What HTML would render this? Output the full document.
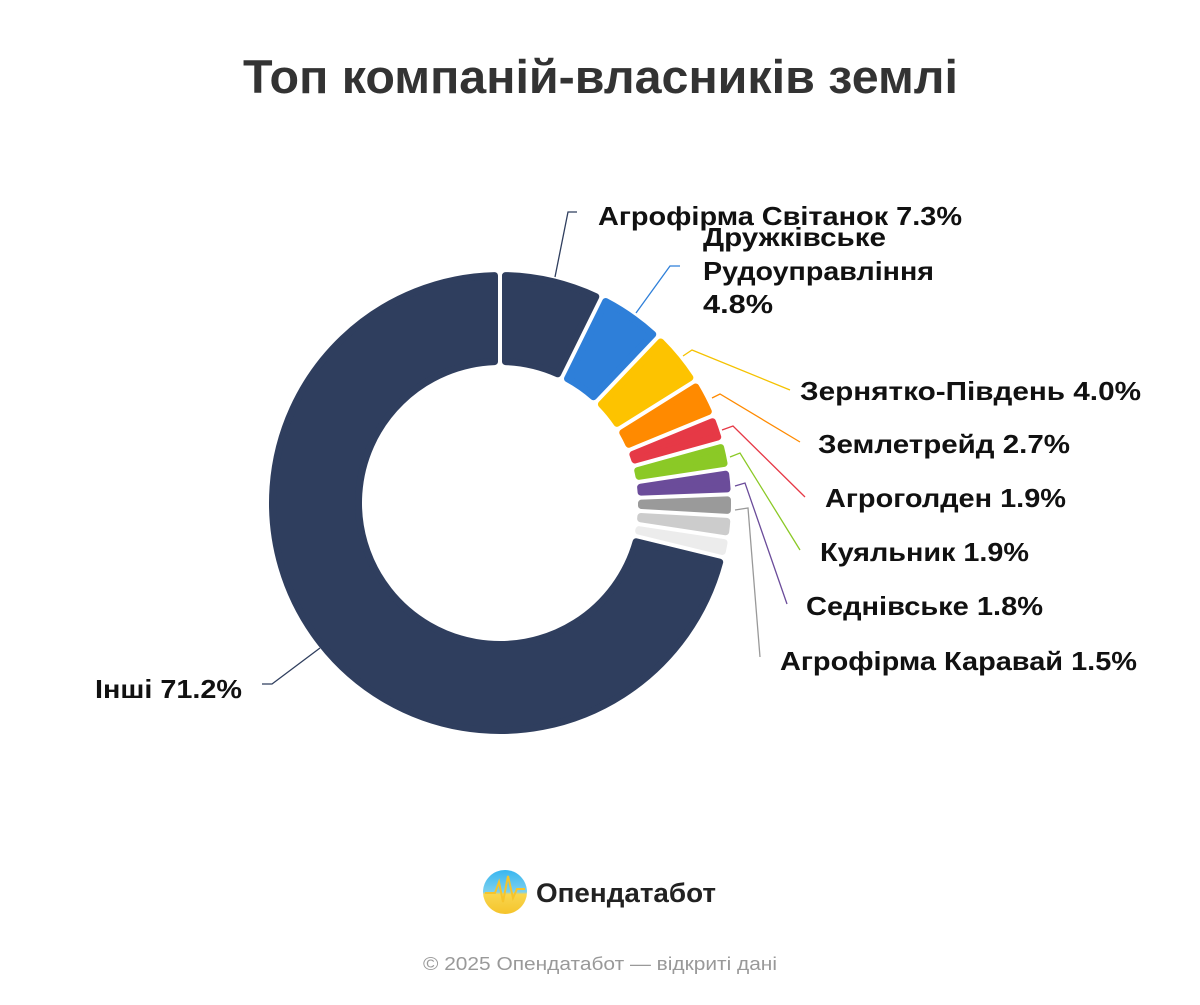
<!DOCTYPE html>
<html><head><meta charset="utf-8"><style>
body{margin:0;background:#fff;font-family:"Liberation Sans","DejaVu Sans",sans-serif;}
</style></head><body>
<svg id="s" width="1200" height="1000" xmlns="http://www.w3.org/2000/svg" font-family="Liberation Sans, DejaVu Sans, sans-serif">
<defs><linearGradient id="lg" x1="0" y1="0" x2="0" y2="1"><stop offset="0" stop-color="#38b6f0"/><stop offset="0.5" stop-color="#7dd0ee"/><stop offset="0.55" stop-color="#f8d64e"/><stop offset="1" stop-color="#f5c42c"/></linearGradient></defs>
<text x="243" y="93" font-size="47" font-weight="bold" fill="#333" textLength="715" lengthAdjust="spacingAndGlyphs">Топ компаній-власників землі</text>
<g id="d"></g>
<g fill="none" stroke-width="1.3">
<polyline points="555,277 568,212 577,212" stroke="#2f3e5e"/>
<polyline points="636,313 670,266 680,266" stroke="#2e7fd9"/>
<polyline points="683,356 692,350 790,390" stroke="#f5c200"/>
<polyline points="712,398 720,394 800,442" stroke="#ff8a00"/>
<polyline points="722,430 733,426 805,497" stroke="#e63946"/>
<polyline points="730,457 740,453 800,550" stroke="#8bc926"/>
<polyline points="735,486 745,483 787,604" stroke="#6b4c9a"/>
<polyline points="735,510 748,508 760,657" stroke="#999"/>
<polyline points="320,648 272,684 262,684" stroke="#2f3e5e"/>
</g>
<g font-size="26" font-weight="bold" fill="#111">
<text x="598" y="225" textLength="364" lengthAdjust="spacingAndGlyphs">Агрофірма Світанок 7.3%</text>
<text x="703" y="246" textLength="183" lengthAdjust="spacingAndGlyphs">Дружківське</text>
<text x="703" y="280" textLength="231" lengthAdjust="spacingAndGlyphs">Рудоуправління</text>
<text x="703" y="313" textLength="70" lengthAdjust="spacingAndGlyphs">4.8%</text>
<text x="800" y="400" textLength="341" lengthAdjust="spacingAndGlyphs">Зернятко-Південь 4.0%</text>
<text x="818" y="453" textLength="252" lengthAdjust="spacingAndGlyphs">Землетрейд 2.7%</text>
<text x="825" y="507" textLength="241" lengthAdjust="spacingAndGlyphs">Агроголден 1.9%</text>
<text x="820" y="561" textLength="209" lengthAdjust="spacingAndGlyphs">Куяльник 1.9%</text>
<text x="806" y="615" textLength="237" lengthAdjust="spacingAndGlyphs">Седнівське 1.8%</text>
<text x="780" y="670" textLength="357" lengthAdjust="spacingAndGlyphs">Агрофірма Каравай 1.5%</text>
<text x="95" y="698" textLength="147" lengthAdjust="spacingAndGlyphs">Інші 71.2%</text>
</g>
<circle cx="505" cy="892" r="22" fill="url(#lg)"/>
<polyline points="485,893 495,893 499,882 503,902 508,876 513,898 517,889 525,889" fill="none" stroke="#f5c42c" stroke-width="2"/>
<text x="536" y="902" font-size="27" font-weight="bold" fill="#222" textLength="180" lengthAdjust="spacingAndGlyphs">Опендатабот</text>
<text x="423" y="970" font-size="18" fill="#999" textLength="354" lengthAdjust="spacingAndGlyphs">© 2025 Опендатабот — відкриті дані</text>
</svg>
<script>
var cx=500,cy=503,R=231,r=138;
var data=[[7.3,"#2f3e5e"],[4.8,"#2e7fd9"],[4.0,"#fdc300"],[2.7,"#ff8a00"],[1.9,"#e63946"],[1.9,"#8bc926"],[1.8,"#6b4c9a"],[1.5,"#9a9a9a"],[1.5,"#cccccc"],[1.4,"#ececec"],[71.2,"#2f3e5e"]];
var tot=0;data.forEach(d=>tot+=d[0]);
var a=0,g=document.getElementById("d"),h="";
function p(rad,ang){return [cx+rad*Math.sin(ang),cy-rad*Math.cos(ang)];}
data.forEach(d=>{
 var a0=a/tot*2*Math.PI,a1=(a+d[0])/tot*2*Math.PI;a+=d[0];
 var gap=2+3.5,R1=R-3.5,r1=r+3.5;
 var o0=a0+gap/R1,o1=a1-gap/R1,i0=a0+gap/r1,i1=a1-gap/r1;
 var lo=(o1-o0)>Math.PI?1:0,li=(i1-i0)>Math.PI?1:0;
 var A=p(R1,o0),B=p(R1,o1),C=p(r1,i1),D=p(r1,i0);
 h+='<path d="M'+A+' A'+R1+','+R1+' 0 '+lo+' 1 '+B+' L'+C+' A'+r1+','+r1+' 0 '+li+' 0 '+D+' Z" fill="'+d[1]+'" stroke="'+d[1]+'" stroke-width="7" stroke-linejoin="round"/>';
});
g.innerHTML=h;
</script>
</body></html>
